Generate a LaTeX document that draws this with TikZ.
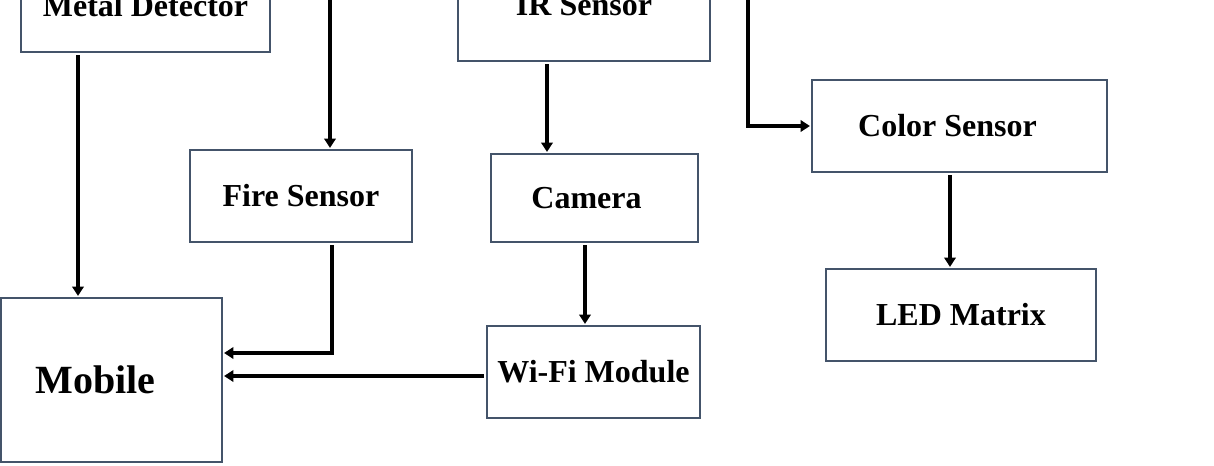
\documentclass[tikz,border=0pt]{standalone}
\usepackage{fontspec}
\setmainfont{Liberation Serif}
\usetikzlibrary{calc,arrows.meta}

\tikzset{
    block/.style={draw=boxline, line width=1.1pt, fill=white, inner sep=0pt,
        font=\fontsize{24}{28}\selectfont\bfseries},
    flow/.style={line width=3.4pt, shorten >=1pt, shorten <=2pt,
        -{Triangle[length=7pt,width=8.5pt]}},
}
\definecolor{boxline}{HTML}{44546A}

\begin{document}
\begin{tikzpicture}[x=0.75pt, y=-0.75pt]

    \useasboundingbox (0,0) rectangle (1214,465);
    \clip (0,0) rectangle (1214,465);

    % boxes
    \node[block, minimum width=249*0.75pt, minimum height=92*0.75pt] (metal) at (145.5,6) {Metal Detector};
    \node[block, minimum width=252*0.75pt, minimum height=112*0.75pt] (ir) at (584,5) {IR Sensor};
    \node[block, minimum width=222*0.75pt, minimum height=92*0.75pt] (fire) at (301,196) {Fire Sensor};
    \node[block, minimum width=207*0.75pt, minimum height=88*0.75pt] (camera) at (594.5,198) {Camera\kern12pt};
    \node[block, minimum width=213*0.75pt, minimum height=92*0.75pt] (wifi) at (593.5,372) {Wi-Fi Module};
    \node[block, minimum width=295*0.75pt, minimum height=92*0.75pt] (color) at (959.5,126) {Color Sensor\kern18pt};
    \node[block, minimum width=270*0.75pt, minimum height=92*0.75pt] (led) at (961,315) {LED Matrix};
    \node[block, minimum width=221*0.75pt, minimum height=164*0.75pt,
        font=\fontsize{30}{34}\selectfont\bfseries] (mobile) at (111.5,380) {Mobile\kern24pt};

    % free ends coming from above the picture
    \coordinate (fireIn) at (330,-5);
    \coordinate (colorIn) at (748,-5);

    % start points under the boxes
    \coordinate (metalOut) at ($(metal.south)+(-67.5,0)$);
    \coordinate (irOut) at ($(ir.south)+(-37,0)$);
    \coordinate (cameraOut) at ($(camera.south)+(-9.5,0)$);
    \coordinate (colorOut) at ($(color.south)+(-9.5,0)$);
    \coordinate (fireOut) at ($(fire.south)+(31,0)$);

    % connectors
    \draw[flow] (metalOut) -- (metalOut |- mobile.north); % metal - mobile
    \draw[flow] (fireIn) -- (fireIn |- fire.north); % top - fire
    \draw[flow] (irOut) -- (irOut |- camera.north); % ir - camera
    \draw[flow] (cameraOut) -- (cameraOut |- wifi.north); % camera - wifi
    \draw[flow] (colorIn) |- (color.west); % top - color
    \draw[flow] (colorOut) -- (colorOut |- led.north); % color - led
    \draw[flow] (fireOut) |- ($(mobile.east)+(0,-27)$); % fire - mobile
    \draw[flow] ($(wifi.west)+(0,4)$) -- ($(mobile.east)+(0,-4)$); % wifi - mobile

\end{tikzpicture}
\end{document}
